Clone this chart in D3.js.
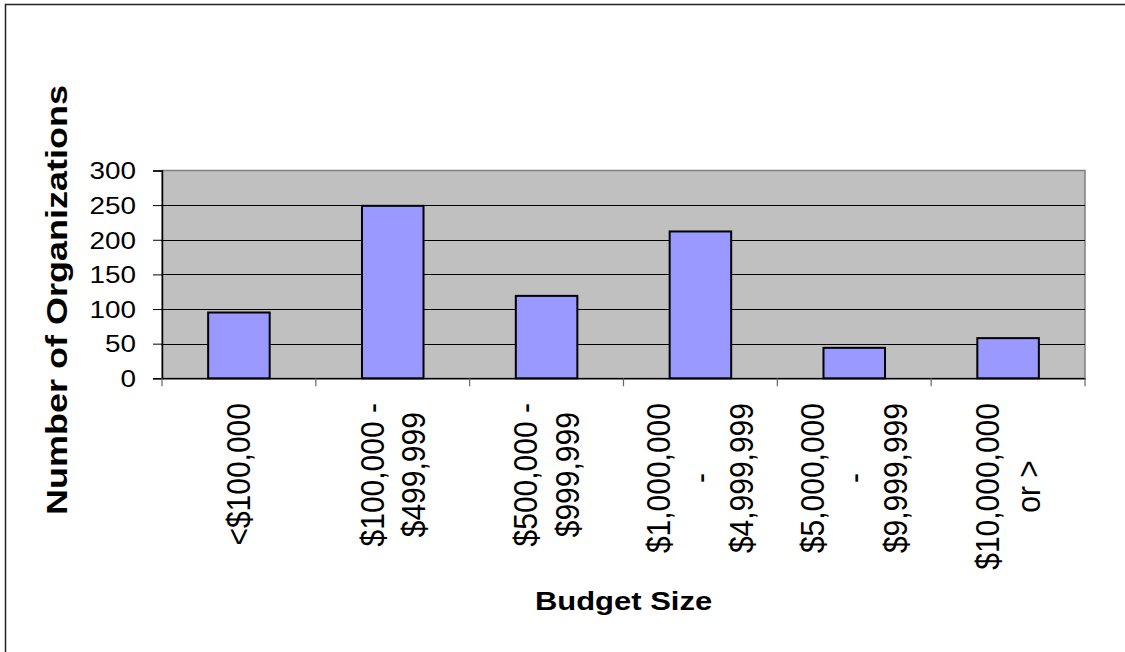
<!DOCTYPE html>
<html>
<head>
<meta charset="utf-8">
<script src="https://cdn.jsdelivr.net/npm/d3@7"></script>
<style>
  html, body { margin: 0; padding: 0; background: #fff; }
  svg { display: block; }
  text { font-family: Arial, "Liberation Sans", sans-serif; fill: #000; }
</style>
</head>
<body>
<svg id="chart" width="1125" height="652"></svg>
<script>
// Budget-size bands (each band split into the lines shown under the axis)
const categories = [
  ["<$100,000"],
  ["$100,000 -", "$499,999"],
  ["$500,000 -", "$999,999"],
  ["$1,000,000", "-", "$4,999,999"],
  ["$5,000,000", "-", "$9,999,999"],
  ["$10,000,000", "or >"]
];
const counts = [95, 249, 119, 212, 44, 58];
const yTicks = [0, 50, 100, 150, 200, 250, 300];
const yTitle = "Number of Organizations";
const xTitle = "Budget Size";

const svg = d3.select("#chart");
const W = 1125, H = 652;

// outer chart frame (runs off the right and bottom edges)
svg.append("path")
  .attr("d", `M5.5,${H} V4.5 H${W}`)
  .attr("fill", "none")
  .attr("stroke", "#222")
  .attr("stroke-width", 1.5);

const plot = { left: 162, right: 1085, top: 170.5, bottom: 378.3 };

const x = d3.scaleBand()
  .domain(d3.range(categories.length))
  .range([plot.left, plot.right])
  .paddingInner(0.6)
  .paddingOuter(0.3);

const xBand = d3.scaleBand()
  .domain(d3.range(categories.length))
  .range([plot.left, plot.right]);

const y = d3.scaleLinear()
  .domain([0, 300])
  .range([plot.bottom, plot.top]);

// plot area background
svg.append("rect")
  .attr("x", plot.left).attr("y", plot.top)
  .attr("width", plot.right - plot.left)
  .attr("height", plot.bottom - plot.top)
  .attr("fill", "#C0C0C0")
  .attr("stroke", "#808080")
  .attr("stroke-width", 1.5);

// horizontal gridlines
svg.append("g")
  .selectAll("line")
  .data(yTicks.filter(t => t > 0 && t < 300))
  .join("line")
  .attr("x1", plot.left).attr("x2", plot.right)
  .attr("y1", d => Math.round(y(d)) + 0.5)
  .attr("y2", d => Math.round(y(d)) + 0.5)
  .attr("stroke", "#000")
  .attr("stroke-width", 1);

// bars
svg.append("g")
  .selectAll("rect")
  .data(counts)
  .join("rect")
  .attr("x", (d, i) => x(i))
  .attr("y", d => y(d))
  .attr("width", x.bandwidth())
  .attr("height", d => y(0) - y(d))
  .attr("fill", "#9999FF")
  .attr("stroke", "#000")
  .attr("stroke-width", 2);

// y axis
const yAxis = svg.append("g")
  .attr("transform", `translate(${plot.left},0)`)
  .call(d3.axisLeft(y).tickValues(yTicks).tickSize(9).tickPadding(0).tickFormat(d3.format("d")));
yAxis.select(".domain").attr("stroke", "#000").attr("stroke-width", 1.5);
yAxis.selectAll(".tick line").attr("stroke", "#000");
yAxis.selectAll(".tick text")
  .attr("x", null).attr("dy", null)
  .attr("text-anchor", "end")
  .attr("dominant-baseline", "central")
  .style("font-size", "24px")
  .attr("transform", "translate(-26,0) scale(1.16,1)");

// x axis
const xAxis = svg.append("g")
  .attr("transform", `translate(0,${plot.bottom})`)
  .call(d3.axisBottom(xBand).tickSize(0).tickFormat(""));
xAxis.select(".domain").attr("stroke", "#000").attr("stroke-width", 1.5);

// category separator ticks
svg.append("g")
  .selectAll("line")
  .data(d3.range(categories.length + 1))
  .join("line")
  .attr("x1", i => i < categories.length ? xBand(i) : plot.right)
  .attr("x2", i => i < categories.length ? xBand(i) : plot.right)
  .attr("y1", plot.bottom)
  .attr("y2", plot.bottom + 8)
  .attr("stroke", "#666")
  .attr("stroke-width", 1.2);

// rotated category labels: block top-aligned under the axis, lines centred
const labelTop = 403;
const lineGap = 41.5;
categories.forEach((lines, i) => {
  const cx = xBand(i) + xBand.bandwidth() / 2;
  const g = svg.append("g");
  const texts = g.selectAll("text")
    .data(lines)
    .join("text")
    .text(d => d)
    .style("font-size", "30px")
    .attr("text-anchor", "middle")
    .attr("dominant-baseline", "central");
  let maxLen = 0;
  texts.each(function () { maxLen = Math.max(maxLen, this.getComputedTextLength()); });
  const cy = labelTop + maxLen / 2;
  texts.attr("transform", (d, j) =>
    `translate(${cx + (j - (lines.length - 1) / 2) * lineGap},${cy}) rotate(-90) scale(1,1.1)`);
});

// axis titles
svg.append("text")
  .text(yTitle)
  .style("font-size", "30px")
  .style("font-weight", "bold")
  .attr("text-anchor", "middle")
  .attr("dominant-baseline", "central")
  .attr("transform", "translate(57,300) rotate(-90) scale(1.2,1)");

svg.append("text")
  .text(xTitle)
  .style("font-size", "25.6px")
  .style("font-weight", "bold")
  .attr("text-anchor", "middle")
  .attr("transform", `translate(${(plot.left + plot.right) / 2},610) scale(1.21,1)`);
</script>
</body>
</html>
